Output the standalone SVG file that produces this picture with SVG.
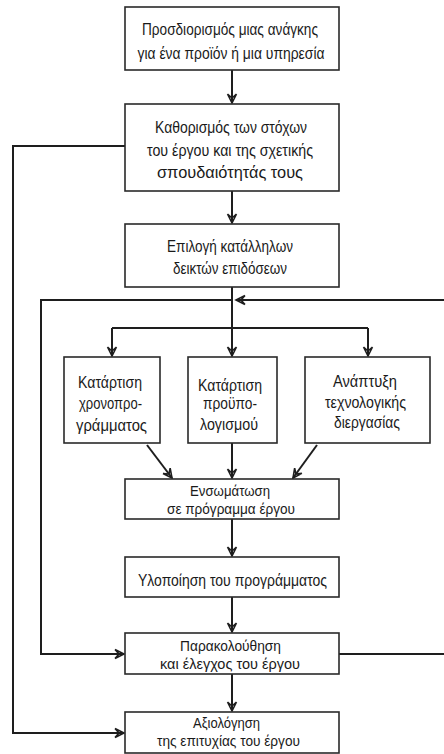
<svg xmlns="http://www.w3.org/2000/svg" width="444" height="754" viewBox="0 0 444 754">
  <style>
    .box { fill: #ffffff; stroke: #2a2a2a; stroke-width: 1.6; }
    .lbl { font-family: "Liberation Sans", "DejaVu Sans", sans-serif; font-size: 17px; fill: #1a1a1a; text-anchor: middle; }
    .tight { font-size: 14.5px; }
    .wire { fill: none; stroke: #1e1e1e; stroke-width: 2; }
  </style>
  <defs>
    <marker id="head" markerUnits="userSpaceOnUse" markerWidth="14" markerHeight="12" viewBox="-10 -6 12 12" refX="0" refY="0" orient="auto">
      <path d="M-9,-4.5 L0,0 L-9,4.5 M-9,-4.5 L-5,0 L-9,4.5" fill="none" stroke="#1e1e1e" stroke-width="1.6" stroke-linejoin="miter"/>
    </marker>
  </defs>

  <rect width="444" height="754" fill="#ffffff"/>

  <!-- connectors -->
  <g id="connectors" class="wire">
    <path d="M232,70 V103" marker-end="url(#head)"/>
    <path d="M232,191 V223" marker-end="url(#head)"/>
    <path d="M232,287 V356" marker-end="url(#head)"/>
    <path d="M112,328 H368"/>
    <path d="M112,328 V356" marker-end="url(#head)"/>
    <path d="M368,328 V356" marker-end="url(#head)"/>
    <path d="M444,300 H236" marker-end="url(#head)"/>
    <path d="M232,300 H41 V654 H124" marker-end="url(#head)"/>
    <path d="M339,654 H444"/>
    <path d="M125,146 H13 V733 H124" marker-end="url(#head)"/>
    <path d="M147,445 L172,478" marker-end="url(#head)"/>
    <path d="M232,443 V478" marker-end="url(#head)"/>
    <path d="M317,445 L293,478" marker-end="url(#head)"/>
    <path d="M232,519 V556" marker-end="url(#head)"/>
    <path d="M232,597 V632" marker-end="url(#head)"/>
    <path d="M232,674 V711" marker-end="url(#head)"/>
  </g>

  <!-- nodes -->
  <g id="need">
    <rect class="box" x="125" y="7" width="214" height="63"/>
    <text class="lbl" x="230" y="35" textLength="176" lengthAdjust="spacingAndGlyphs">Προσδιορισμός μιας ανάγκης</text>
    <text class="lbl" x="231" y="58.5" textLength="187" lengthAdjust="spacingAndGlyphs">για ένα προϊόν ή μια υπηρεσία</text>
  </g>

  <g id="goals">
    <rect class="box" x="125" y="104" width="214" height="87"/>
    <text class="lbl" x="231" y="133" textLength="152" lengthAdjust="spacingAndGlyphs">Καθορισμός των στόχων</text>
    <text class="lbl" x="230" y="156" textLength="166" lengthAdjust="spacingAndGlyphs">του έργου και της σχετικής</text>
    <text class="lbl" x="230" y="178" textLength="146" lengthAdjust="spacingAndGlyphs">σπουδαιότητάς τους</text>
  </g>

  <g id="indicators">
    <rect class="box" x="125" y="224" width="214" height="63"/>
    <text class="lbl" x="230" y="252" textLength="126" lengthAdjust="spacingAndGlyphs">Επιλογή κατάλληλων</text>
    <text class="lbl" x="230" y="274" textLength="114" lengthAdjust="spacingAndGlyphs">δεικτών επιδόσεων</text>
  </g>

  <g id="schedule">
    <rect class="box" x="64" y="357" width="96" height="86"/>
    <text class="lbl" x="110" y="388" textLength="64" lengthAdjust="spacingAndGlyphs">Κατάρτιση</text>
    <text class="lbl" x="110.5" y="409" textLength="63" lengthAdjust="spacingAndGlyphs">χρονοπρο-</text>
    <text class="lbl" x="111.5" y="431" textLength="71" lengthAdjust="spacingAndGlyphs">γράμματος</text>
  </g>

  <g id="budget">
    <rect class="box" x="188" y="357" width="89" height="86"/>
    <text class="lbl" x="230" y="391" textLength="64" lengthAdjust="spacingAndGlyphs">Κατάρτιση</text>
    <text class="lbl" x="230" y="409" textLength="54" lengthAdjust="spacingAndGlyphs">προϋπο-</text>
    <text class="lbl" x="229" y="430" textLength="58" lengthAdjust="spacingAndGlyphs">λογισμού</text>
  </g>

  <g id="technology">
    <rect class="box" x="305" y="357" width="125" height="86"/>
    <text class="lbl" x="365" y="387" textLength="64" lengthAdjust="spacingAndGlyphs">Ανάπτυξη</text>
    <text class="lbl" x="365.5" y="408" textLength="81" lengthAdjust="spacingAndGlyphs">τεχνολογικής</text>
    <text class="lbl" x="367" y="428" textLength="66" lengthAdjust="spacingAndGlyphs">διεργασίας</text>
  </g>

  <g id="integration">
    <rect class="box" x="125" y="479" width="214" height="40"/>
    <text class="lbl tight" x="230" y="496" textLength="80" lengthAdjust="spacingAndGlyphs">Ενσωμάτωση</text>
    <text class="lbl tight" x="231" y="513.5" textLength="128" lengthAdjust="spacingAndGlyphs">σε πρόγραμμα έργου</text>
  </g>

  <g id="implementation">
    <rect class="box" x="125" y="557" width="214" height="40"/>
    <text class="lbl" x="232.5" y="586" textLength="189" lengthAdjust="spacingAndGlyphs">Υλοποίηση του προγράμματος</text>
  </g>

  <g id="monitoring">
    <rect class="box" x="125" y="633" width="214" height="41"/>
    <text class="lbl tight" x="230.5" y="651" textLength="101" lengthAdjust="spacingAndGlyphs">Παρακολούθηση</text>
    <text class="lbl tight" x="230" y="669" textLength="140" lengthAdjust="spacingAndGlyphs">και έλεγχος του έργου</text>
  </g>

  <g id="evaluation">
    <rect class="box" x="125" y="712" width="214" height="41"/>
    <text class="lbl tight" x="226.5" y="727.5" textLength="67" lengthAdjust="spacingAndGlyphs">Αξιολόγηση</text>
    <text class="lbl tight" x="228.5" y="745.5" textLength="143" lengthAdjust="spacingAndGlyphs">της επιτυχίας του έργου</text>
  </g>
</svg>
